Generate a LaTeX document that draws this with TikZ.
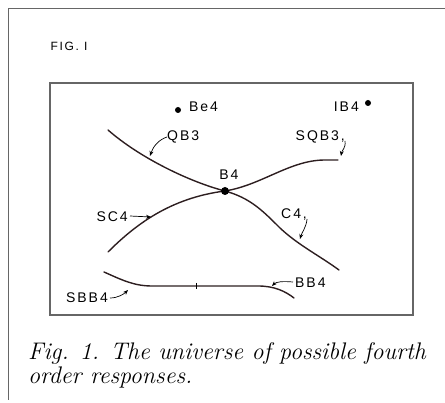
\documentclass[tikz,border=0pt]{standalone}
\usepackage{fontspec}
\usetikzlibrary{arrows.meta}
\newfontfamily\lblfont[LetterSpace=14]{Liberation Sans}
\tikzset{
  lbl/.style={font=\lblfont\fontsize{14}{16}\selectfont, inner sep=0pt},
  capt/.style={anchor=base west, inner sep=0pt, font=\fontsize{24}{24}\selectfont\itshape\addfontfeatures{LetterSpace=3}},
  curve/.style={line width=1.4pt, draw={rgb,255:red,45;green,30;blue,32}, line cap=round},
  pointer/.style={line width=0.7pt, -{Stealth[length=5pt,width=4pt]}},
  frame/.style={line width=1pt, draw=black!60}
}
\begin{document}
\begin{tikzpicture}[x=1pt,y=-1pt]
\useasboundingbox (0,0) rectangle (445,403);
\draw[frame] (8,400) -- (8,9) -- (445,9);
\node[lbl, font=\lblfont\fontsize{12}{14}\selectfont] (fig) at (69,46) {FIG. I};
\draw[frame, line width=1.2pt] (50,83) rectangle (413,315);

\fill (178,110) circle (3pt);
\node[lbl, anchor=west] (be4) at (189,107) {Be4};
\fill (368,103) circle (3pt);
\node[lbl, anchor=east] (ib4) at (359,107) {IB4};

\draw[curve] (108,130) .. controls (140,158) and (190,182) .. (225,191)
  .. controls (250,198) and (262,210) .. (280,228) .. controls (298,245) and (320,256) .. (339,270);
\draw[curve] (108,252) .. controls (135,225) and (170,198) .. (225,191)
  .. controls (262,185) and (290,160) .. (325,160) -- (338,160);
\draw[curve] (104,272) .. controls (122,280) and (134,286) .. (152,286) -- (258,286)
  .. controls (274,286) and (285,291) .. (294,298);
\draw[line width=0.8pt] (196,283) -- (196,289);

\fill (225,191) circle (4pt);
\node[lbl] (b4) at (229,175) {B4};

\coordinate (qb3pt) at (150,156);
\coordinate (sqb3pt) at (341,156);
\coordinate (sc4pt) at (151,217);
\coordinate (c4pt) at (300,239);
\coordinate (bb4pt) at (272,286);
\coordinate (sbb4pt) at (128,290);

\node[lbl, anchor=west] (qb3) at (167,137) {QB3};
\node[lbl, anchor=east] (sqb3) at (345,137) {SQB3,};
\node[lbl, anchor=east] (sc4) at (128,217) {SC4};
\node[lbl, anchor=west] (c4) at (281,215) {C4,};
\node[lbl, anchor=west] (bb4) at (295,283) {BB4};
\node[lbl, anchor=east] (sbb4) at (108,298) {SBB4};

\draw[pointer] (qb3.west) .. controls (158,140) and (153,147) .. (qb3pt);
\draw[pointer] (sqb3.east) ++(0,4) .. controls (346,148) and (342,150) .. (sqb3pt);
\draw[pointer] (sc4.east) ++(2,-1) -- (sc4pt);
\draw[pointer] (c4.east) ++(0,4) .. controls (306,228) and (302,232) .. (c4pt);
\draw[pointer] (bb4.west) ++(-2,-1) .. controls (282,281) and (276,282) .. (bb4pt);
\draw[pointer] (sbb4.east) ++(2,0) .. controls (118,298) and (124,294) .. (sbb4pt);

\node[capt] (cap1) at (28,360) {Fig. 1. The universe of possible fourth};
\node[capt] (cap2) at (28,384) {order responses.};
\end{tikzpicture}
\end{document}
